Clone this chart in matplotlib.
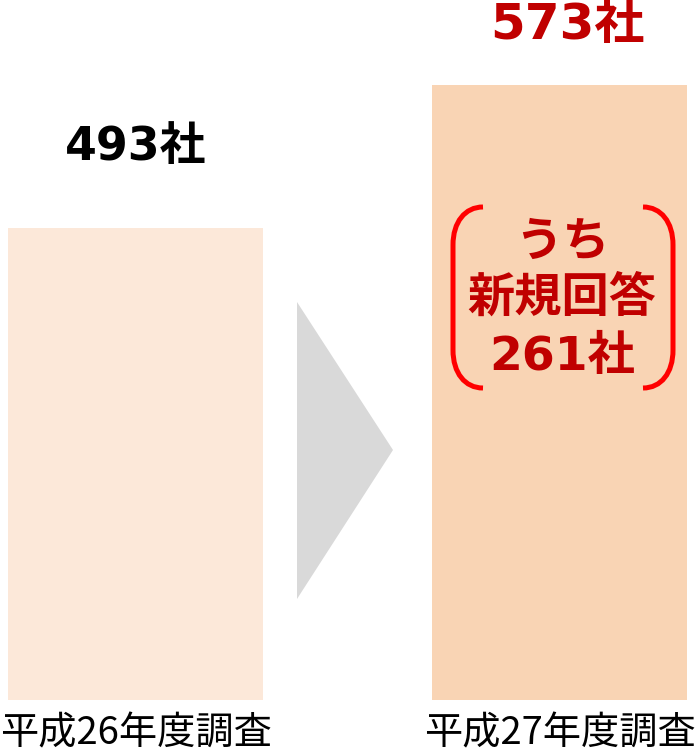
import matplotlib.pyplot as plt
from matplotlib.patches import Polygon, PathPatch
from matplotlib.path import Path

plt.rcParams['font.family'] = ['Noto Sans CJK JP', 'DejaVu Sans']

categories = ['平成26年度調査', '平成27年度調査']
companies = [493, 573]
new_respondents = 261
bar_colors = ['#FCE8D9', '#F9D4B4']

W, H = 699, 755
fig = plt.figure(figsize=(W / 100, H / 100), dpi=100)

# bold digits in a wide face, kanji falls back to the CJK font
bold_fam = ['DejaVu Sans', 'Noto Sans CJK JP']


def px(x, y):
    # pixel position (origin top-left) -> figure fraction
    return (x / W, 1 - y / H)


ax = fig.add_axes([0, 55 / H, 1, 700 / H])
for s in ax.spines.values():
    s.set_visible(False)

x = [0, 1]
ax.bar(x, companies, width=0.601, color=bar_colors, bottom=0)
ax.set_ylim(229, 229 + 700 / 1.7875)
ax.set_xlim(-0.3196, 1.329)
ax.set_yticks([])
ax.set_xticks(x, categories, fontsize=27.5)
ax.tick_params(axis='x', length=0, pad=10.5)

# value labels on top of the bars
ax.annotate(f'{companies[0]}社', xy=(0, companies[0]), xytext=(0, 58),
            textcoords='offset points', ha='center', va='center',
            fontsize=33, fontweight='bold', color='black', family=bold_fam)
ax.annotate(f'{companies[1]}社', xy=(1, companies[1]), xytext=(6, 43),
            textcoords='offset points', ha='center', va='center',
            fontsize=36, fontweight='bold', color='#C00000', family=bold_fam)

# grey arrow between the bars
arrow = Polygon([px(297, 302), px(297, 599), px(393, 450)], closed=True,
                transform=fig.transFigure, facecolor='#D9D9D9', edgecolor='none')
fig.patches.append(arrow)


# red brackets around the breakdown
def bracket(xe, xv):
    verts = [px(xe, 207), px(xe - (xe - xv) * 0.6, 207), px(xv, 222), px(xv, 245),
             px(xv, 350),
             px(xv, 373), px(xe - (xe - xv) * 0.6, 388), px(xe, 388)]
    codes = [Path.MOVETO, Path.CURVE4, Path.CURVE4, Path.CURVE4,
             Path.LINETO,
             Path.CURVE4, Path.CURVE4, Path.CURVE4]
    return PathPatch(Path(verts, codes), transform=fig.transFigure,
                     facecolor='none', edgecolor='#FF0000', lw=3.6,
                     capstyle='butt')


fig.patches.append(bracket(483, 453))
fig.patches.append(bracket(643, 673))

inner = ['うち', '新規回答', f'{new_respondents}社']
inner_y = [243, 299, 358]
for t, yy in zip(inner, inner_y):
    fig.text(*px(562, yy), t, ha='center', va='center', fontsize=34,
             fontweight='bold', color='#C00000', family=bold_fam)

fig.savefig('out.png', dpi=100)
